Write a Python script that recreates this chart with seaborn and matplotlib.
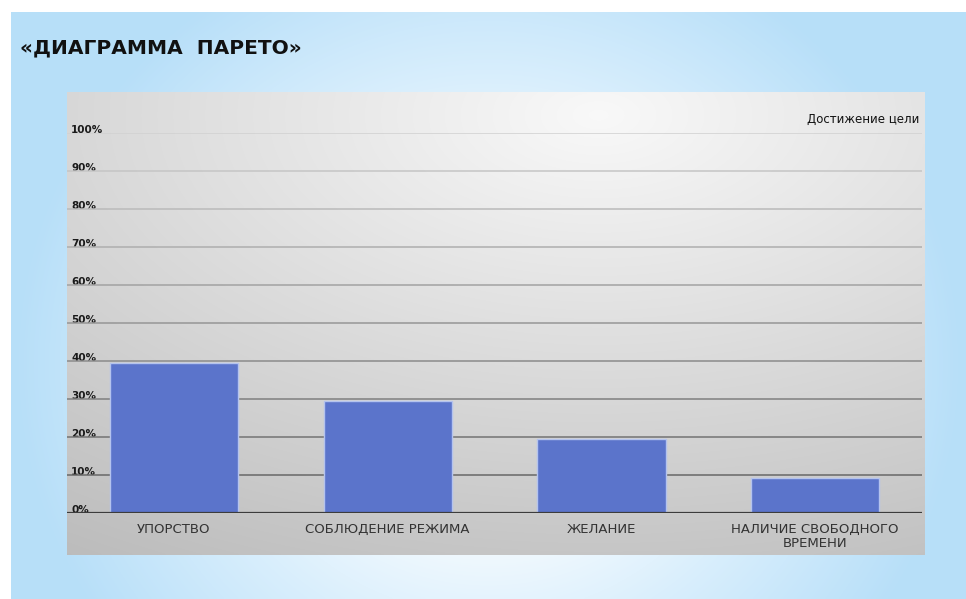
import numpy as np
import pandas as pd
import matplotlib
matplotlib.use("Agg")
import matplotlib.pyplot as plt
import matplotlib.transforms as mtrans
import seaborn as sns

# ---- data ----
categories = ["УПОРСТВО", "СОБЛЮДЕНИЕ РЕЖИМА", "ЖЕЛАНИЕ", "НАЛИЧИЕ СВОБОДНОГО\nВРЕМЕНИ"]
values = [39.5, 29.5, 19.5, 9.3]
y_ticks = [0, 10, 20, 30, 40, 50, 60, 70, 80, 90, 100]
y_tick_labels = [f"{v}%" for v in y_ticks]
title_text = "«ДИАГРАММА  ПАРЕТО»"
legend_text = "Достижение цели"

sns.set_theme(style="white")
plt.rcParams['font.family'] = ['DejaVu Sans']

W, H = 966, 599
fig = plt.figure(figsize=(W / 100, H / 100), dpi=100)
fig.patch.set_facecolor("white")

def px_axes(x0, y0, x1, y1):
    return [x0 / W, (H - y1) / H, (x1 - x0) / W, (y1 - y0) / H]

# ---- slide background (light blue with white glow) ----
bg = fig.add_axes(px_axes(11, 12, 966, 599), zorder=0)
gx, gy = np.meshgrid(np.linspace(0, 1, 400), np.linspace(0, 1, 250))
t = np.sqrt(((gx - 0.5) / 0.55) ** 2 + ((gy - 0.6) / 0.85) ** 2)
t = np.clip((t - 0.25) / 0.65, 0, 1)
white = np.array([1.0, 1.0, 1.0])
light = np.array([0.85, 0.935, 0.99])
blue = np.array([0.72, 0.875, 0.975])
c1 = np.clip(t * 2, 0, 1)[..., None]
c2 = np.clip(t * 2 - 1, 0, 1)[..., None]
img = white * (1 - c1) + light * c1
img = img * (1 - c2) + blue * c2
img = np.clip(img, 0, 1)
bg.imshow(img, aspect="auto", extent=[0, 1, 1, 0], interpolation="bilinear")
bg.set_axis_off()

# ---- grey chart panel ----
panel = fig.add_axes(px_axes(67, 92, 925, 555), zorder=1)
px_, py_ = np.meshgrid(np.linspace(0, 1, 300), np.linspace(0, 1, 200))
d = np.sqrt(((px_ - 0.62) / 1.0) ** 2 + ((py_ - 0.05) / 1.0) ** 2)
v = 0.975 - 0.21 * d
v = np.clip(v, 0, 1)
pimg = np.stack([v, v, v], axis=-1)
panel.imshow(pimg, aspect="auto", extent=[0, 1, 1, 0], interpolation="bilinear")
panel.set_axis_off()

# ---- main chart ----
ax = fig.add_axes(px_axes(67, 133, 922, 513), zorder=2)
ax.patch.set_alpha(0)
df = pd.DataFrame({"cat": categories, "val": values})
sns.barplot(data=df, x="cat", y="val", color="#5b74cb", saturation=1,
            width=0.6, edgecolor="#b4c3ee", linewidth=1.0, ax=ax, zorder=3)
ax.set_xlim(-0.5, 3.5)
ax.set_ylim(0, 100)
ax.set_xlabel("")
ax.set_ylabel("")
for s in ax.spines.values():
    s.set_visible(False)

# gridlines
for yv in y_ticks[1:]:
    shade = 0.36 + 0.46 * (yv / 100)
    ax.axhline(yv, color=(shade, shade, shade), lw=1.1, zorder=1)
ax.axhline(0, color="#3c3c3c", lw=1.6, zorder=4)

ax.set_yticks(y_ticks)
ax.set_yticklabels(y_tick_labels)
ax.tick_params(axis="y", length=0, pad=-3, labelsize=7.5, labelcolor="#1a1a1a")
for lab in ax.get_yticklabels():
    lab.set_horizontalalignment("left")
    lab.set_verticalalignment("baseline")
    lab.set_fontweight("bold")
    lab.set_zorder(5)

ax.tick_params(axis="x", length=0, pad=7, labelsize=9.5, labelcolor="#333333")
for lab in ax.get_xticklabels():
    lab.set_linespacing(1.1)

ax.text(0.997, 103.5, legend_text,
        transform=mtrans.blended_transform_factory(ax.transAxes, ax.transData),
        ha="right", va="center", fontsize=8.5, color="#111111", clip_on=False)

fig.text(20 / W, 1 - 48 / H, title_text, ha="left", va="center", fontsize=14.5,
         fontweight="bold", color="#111111", zorder=5)

fig.savefig("out.png", dpi=100, facecolor="white")
